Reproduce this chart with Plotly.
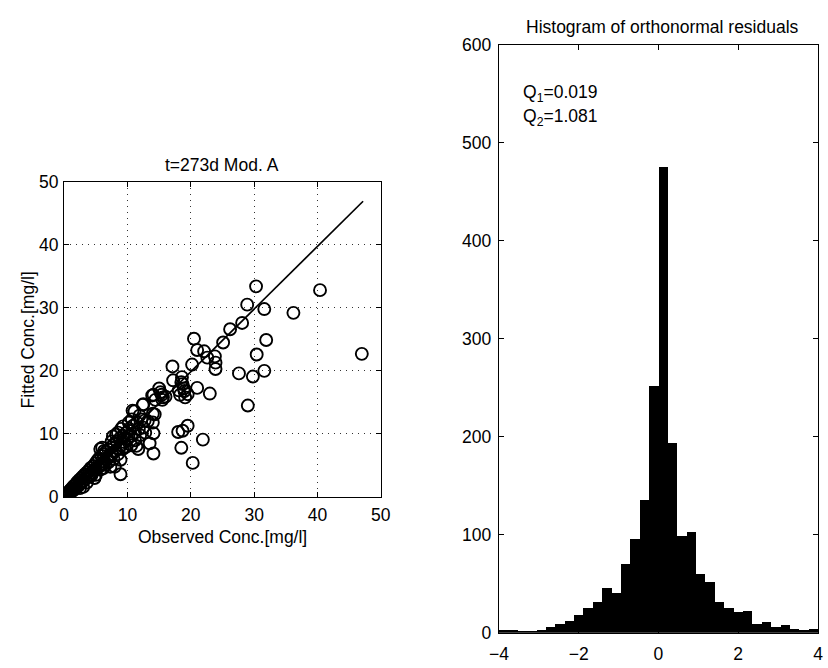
import numpy as np
import plotly.graph_objects as go

# ---------------- data ----------------
observed = [
    0.1, 0.2, 0.3, 0.4, 0.5, 0.6, 0.7, 0.8, 0.9, 1.0, 1.1, 1.2, 1.3, 1.4, 1.5, 1.6, 1.8, 1.9, 2.0, 2.1,
    2.3, 2.4, 2.5, 2.7, 2.8, 3.0, 3.1, 3.3, 3.4, 3.6, 3.8, 3.9, 4.1, 4.2, 4.4, 4.6, 4.7, 4.9, 5.0, 5.2,
    5.4, 5.5, 5.7, 5.9, 6.0, 6.2, 6.4, 6.6, 6.8, 7.0, 7.2, 7.4, 7.6, 7.9, 8.1, 8.3, 8.6, 8.8, 9.0, 9.3,
    9.5, 9.8, 10.0, 10.3, 10.6, 10.9, 11.2, 11.5, 11.8, 12.2,
    5.7, 6.0, 6.3, 7.5, 7.7, 8.2, 8.5, 9.0, 9.3, 10.2, 10.7, 11.1, 12.4, 11.9, 12.7,
    6.5, 7.0, 7.3, 8.0, 8.9, 8.9, 8.5, 9.5, 9.8, 10.6, 11.4, 11.7, 11.2, 12.0, 12.8, 13.5, 14.1, 14.1,
    14.0, 14.3, 13.2, 12.5, 4.3, 3.0, 2.5, 5.0, 5.8, 4.8, 3.6, 6.2, 7.8, 9.2,
    14.1, 15.0, 15.4, 14.4, 15.5, 15.6, 16.0, 15.2, 14.0, 13.9, 12.5, 10.8, 17.1, 17.2, 18.6, 18.7,
    18.9, 18.1, 18.3, 19.1, 19.5, 19.0, 18.5, 21.0, 23.0, 19.5, 18.7, 18.0, 18.5, 21.9, 20.3,
    20.5, 21.0, 22.1, 22.6, 23.8, 23.9, 23.9, 20.2, 25.1, 26.2, 28.1, 28.9, 30.3, 31.6, 36.2, 40.4,
    31.9, 30.4, 27.6, 29.8, 31.6, 29.0, 47.0,
]
fitted = [
    0.1, 0.3, 0.1, 0.5, 0.3, 0.7, 0.4, 0.9, 0.6, 1.1, 0.8, 1.3, 1.0, 1.6, 1.1, 1.8, 1.4, 2.1, 1.6, 2.4,
    1.8, 2.7, 2.1, 3.0, 2.3, 3.3, 2.6, 3.6, 2.9, 3.9, 3.2, 4.2, 3.5, 4.6, 3.8, 4.9, 4.1, 5.3, 4.4, 5.7,
    4.7, 6.1, 5.0, 6.5, 5.3, 6.8, 5.6, 7.2, 6.0, 7.5, 6.4, 7.9, 6.8, 8.4, 7.3, 8.8, 7.7, 9.3, 8.2, 9.7,
    8.7, 10.2, 9.2, 10.8, 9.7, 11.3, 10.2, 11.8, 10.8, 12.3,
    7.6, 7.8, 7.3, 8.8, 9.6, 9.9, 10.2, 10.8, 11.2, 11.8, 12.3, 13.6, 14.6, 12.9, 12.1,
    5.1, 5.5, 4.8, 4.8, 3.6, 5.9, 6.8, 7.8, 8.0, 8.2, 8.1, 7.6, 9.0, 9.8, 10.2, 8.5, 6.9, 10.1,
    11.8, 13.1, 12.0, 11.0, 3.4, 1.6, 1.4, 3.5, 4.4, 3.0, 2.3, 4.6, 6.0, 7.6,
    16.2, 17.2, 16.2, 15.4, 15.4, 15.8, 15.9, 16.6, 13.2, 16.1, 14.7, 13.7, 20.7, 18.5, 19.0, 17.9,
    17.2, 16.9, 16.2, 15.8, 16.3, 16.8, 18.2, 17.3, 16.4, 11.3, 10.5, 10.3, 7.8, 9.1, 5.4,
    25.1, 23.3, 23.1, 22.1, 22.3, 21.3, 20.3, 21.0, 24.5, 26.6, 27.6, 30.5, 33.4, 29.8, 29.2, 32.8,
    24.9, 22.6, 19.6, 19.1, 20.0, 14.5, 22.7,
]
line_x = [0.0, 47.2]
line_y = [0.0, 46.9]

# histogram of orthonormal residuals: 34 equal bins on [-4, 4]
hist_range = [-4.0, 4.0]
hist_counts = [3, 3, 1, 2, 3, 6, 9, 12, 18, 25, 31, 46, 41, 70, 96, 136, 252,
               475, 194, 99, 103, 60, 52, 31, 25, 21, 22, 9, 11, 6, 8, 4, 3, 4]
q_texts = ["Q<sub>1</sub>=0.019", "Q<sub>2</sub>=1.081"]

left_ticks = [0, 10, 20, 30, 40, 50]
hist_xticks = [-4, -2, 0, 2, 4]
hist_yticks = [0, 100, 200, 300, 400, 500, 600]

# ---------------- figure ----------------
W, H = 828, 668
FONT = "Liberation Sans, Arial, Helvetica, sans-serif"
FS = 17.5

nb = len(hist_counts)
bw = (hist_range[1] - hist_range[0]) / nb
centers = hist_range[0] + bw * (np.arange(nb) + 0.5)

fig = go.Figure()
fig.add_trace(go.Scatter(
    x=observed, y=fitted, mode="markers", xaxis="x", yaxis="y",
    marker=dict(symbol="circle-open", size=12, color="black", line=dict(width=1.9, color="black")),
    showlegend=False))
fig.add_trace(go.Scatter(
    x=line_x, y=line_y, mode="lines", xaxis="x", yaxis="y",
    line=dict(color="black", width=1.7), showlegend=False))
fig.add_trace(go.Bar(
    x=centers, y=hist_counts, width=bw, xaxis="x2", yaxis="y2",
    marker=dict(color="black", line=dict(width=0)), showlegend=False))

def px(xp):
    return xp / W

def py(yp):
    return 1 - yp / H

axis_common = dict(
    showline=True, linecolor="black", linewidth=1.2, mirror="allticks",
    ticks="inside", ticklen=5, tickcolor="black", zeroline=False,
    tickfont=dict(family=FONT, size=FS, color="black"),
)

fig.update_layout(
    width=W, height=H, margin=dict(l=0, r=0, t=0, b=0),
    paper_bgcolor="white", plot_bgcolor="white",
    bargap=0,
    xaxis=dict(domain=[px(55.5), px(380)], range=[0, 50], tickvals=left_ticks,
               showgrid=True, gridcolor="#333", gridwidth=1, griddash="1px,5px",
               anchor="y", ticklabelstandoff=2, **axis_common),
    yaxis=dict(domain=[py(502), py(177)], range=[0, 50], tickvals=left_ticks,
               showgrid=True, gridcolor="#333", gridwidth=1, griddash="1px,5px",
               anchor="x", ticklabelstandoff=1, **axis_common),
    xaxis2=dict(domain=[px(501), 1.0], range=hist_range, tickvals=hist_xticks,
                ticktext=["\u22124", "\u22122", "0", "2", "4"],
                showgrid=False, anchor="y2", ticklabelstandoff=5, **axis_common),
    yaxis2=dict(domain=[py(642), py(36)], range=[0, 600], tickvals=hist_yticks,
                showgrid=False, anchor="x2", ticklabelstandoff=3, **axis_common),
)

ann = []
ann.append(dict(text="t=273d Mod. A", x=px(217.5), y=py(160), xref="paper", yref="paper",
                showarrow=False, xanchor="center", yanchor="middle",
                font=dict(family=FONT, size=FS, color="black")))
ann.append(dict(text="Histogram of orthonormal residuals", x=px(669), y=py(18), xref="paper", yref="paper",
                showarrow=False, xanchor="center", yanchor="middle",
                font=dict(family=FONT, size=FS, color="black")))
ann.append(dict(text="Observed Conc.[mg/l]", x=px(218), y=py(543), xref="paper", yref="paper",
                showarrow=False, xanchor="center", yanchor="middle",
                font=dict(family=FONT, size=FS, color="black")))
ann.append(dict(text="Fitted Conc.[mg/l]", x=px(18), y=py(340), xref="paper", yref="paper",
                showarrow=False, xanchor="center", yanchor="middle", textangle=-90,
                font=dict(family=FONT, size=FS, color="black")))
for i, t in enumerate(q_texts):
    ann.append(dict(text=t, x=px(524), y=py(86 + 25 * i), xref="paper", yref="paper",
                    showarrow=False, xanchor="left", yanchor="middle",
                    font=dict(family=FONT, size=FS, color="black")))
fig.update_layout(annotations=ann)

fig.write_html("out.html")
